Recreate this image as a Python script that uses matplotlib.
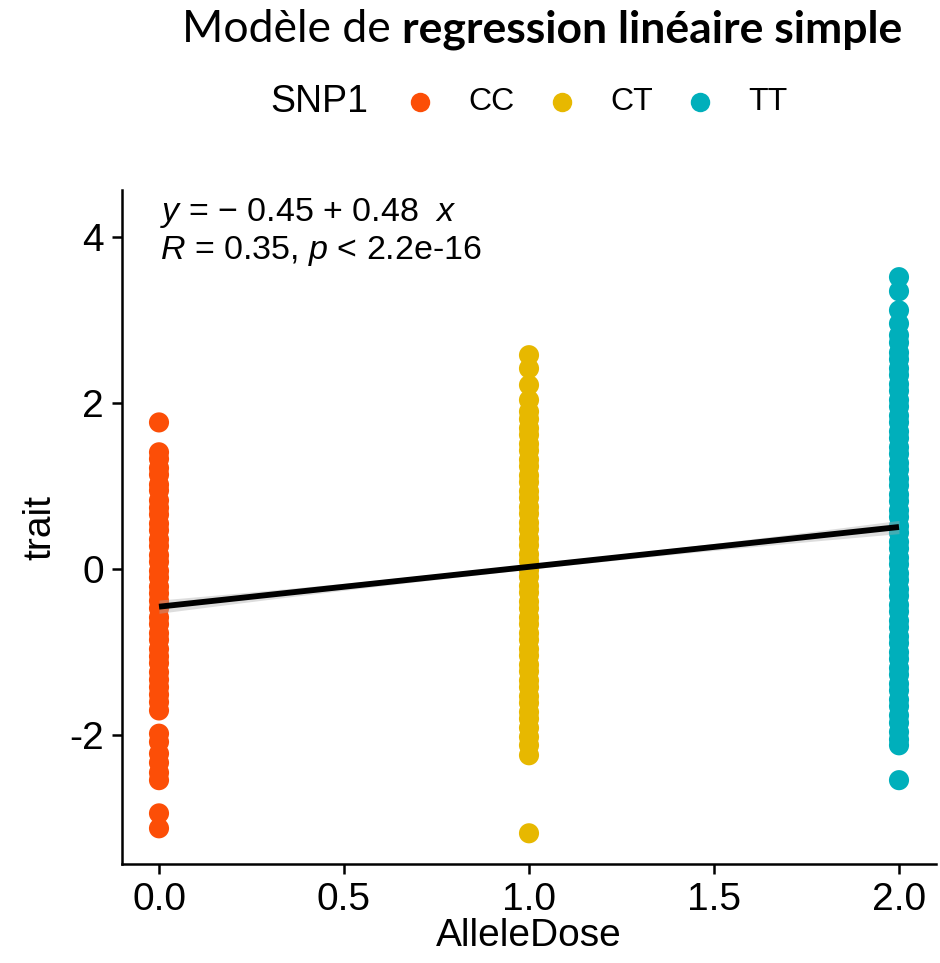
import matplotlib
matplotlib.use("Agg")
import matplotlib.pyplot as plt
import numpy as np
from matplotlib.lines import Line2D

plt.rcParams['font.family'] = ['Liberation Sans', 'DejaVu Sans']
plt.rcParams['mathtext.fontset'] = 'custom'
plt.rcParams['mathtext.rm'] = 'Liberation Sans'
plt.rcParams['mathtext.it'] = 'Liberation Sans:italic'

# ---------------- data ----------------
genotypes = ["CC", "CT", "TT"]
allele_dose = [0.0, 1.0, 2.0]
colors = ["#FC4E07", "#E7B800", "#00AFBB"]

trait_CC = [1.77, 1.41, 1.33, 1.22, 1.14, 1.02, 0.95, 0.83, 0.74, 0.66, 0.55, 0.47,
            0.36, 0.28, 0.17, 0.09, -0.02, -0.10, -0.21, -0.29, -0.38, -0.47, -0.58,
            -0.66, -0.77, -0.85, -0.96, -1.05, -1.13, -1.24, -1.33, -1.42, -1.51,
            -1.60, -1.70, -1.98, -2.08, -2.22, -2.33, -2.45, -2.54, -2.94, -3.12]
trait_CT = [2.58, 2.42, 2.22, 2.04, 1.90, 1.81, 1.70, 1.62, 1.51, 1.43, 1.32, 1.24,
            1.13, 1.05, 0.94, 0.86, 0.75, 0.67, 0.56, 0.48, 0.37, 0.29, 0.18, 0.10,
            -0.01, -0.09, -0.20, -0.28, -0.39, -0.47, -0.58, -0.66, -0.77, -0.85,
            -0.96, -1.04, -1.15, -1.23, -1.34, -1.42, -1.53, -1.61, -1.72, -1.80,
            -1.91, -2.02, -2.12, -2.24, -3.18]
trait_TT = [3.52, 3.35, 3.12, 2.96, 2.82, 2.73, 2.61, 2.53, 2.42, 2.34, 2.23, 2.15,
            2.04, 1.96, 1.85, 1.77, 1.66, 1.58, 1.47, 1.39, 1.28, 1.20, 1.09, 1.01,
            0.90, 0.82, 0.71, 0.63, 0.52, 0.44, 0.33, 0.25, 0.14, 0.06, -0.05, -0.13,
            -0.24, -0.32, -0.43, -0.51, -0.62, -0.70, -0.81, -0.89, -1.00, -1.08,
            -1.19, -1.27, -1.38, -1.46, -1.57, -1.65, -1.76, -1.85, -1.96, -2.05,
            -2.12, -2.54]
traits = [trait_CC, trait_CT, trait_TT]

intercept = -0.45
slope = 0.48
ci_halfwidth_end = 0.08
ci_halfwidth_mid = 0.03

xticks = [0.0, 0.5, 1.0, 1.5, 2.0]
xticklabels = ["0.0", "0.5", "1.0", "1.5", "2.0"]
yticks = [-2, 0, 2, 4]
yticklabels = ["-2", "0", "2", "4"]

# ---------------- figure ----------------
W, H = 940, 963
fig = plt.figure(figsize=(W / 100, H / 100), dpi=100)

def fx(px):
    return px / W

def fy(py):
    return 1 - py / H

ax = fig.add_axes([fx(122), fy(864), fx(936) - fx(122), fy(190) - fy(864)])
ax.set_xlim(-0.1, 2.1)
ax.set_ylim(-3.55, 4.57)

for xd, ys, c in zip(allele_dose, traits, colors):
    ax.scatter([xd] * len(ys), ys, s=210, color=c, edgecolors='none', zorder=2)

xl = np.linspace(0, 2, 100)
yl = intercept + slope * xl
hw = ci_halfwidth_mid + (ci_halfwidth_end - ci_halfwidth_mid) * ((xl - 1.0) ** 2)
ax.fill_between(xl, yl - hw, yl + hw, color='#aaaaaa', alpha=0.4, lw=0, zorder=3)
ax.plot(xl, yl, color='black', lw=4.2, solid_capstyle='butt', zorder=4)

for s in ['top', 'right']:
    ax.spines[s].set_visible(False)
for s in ['left', 'bottom']:
    ax.spines[s].set_linewidth(1.8)
ax.set_xticks(xticks)
ax.set_xticklabels(xticklabels)
ax.set_yticks(yticks)
ax.set_yticklabels(yticklabels)
ax.tick_params(axis='both', length=7, width=1.8, labelsize=28, pad=6)
ax.set_xlabel("AlleleDose", fontsize=28, labelpad=0)
ax.set_ylabel("trait", fontsize=28, labelpad=8)

# regression annotation
fig.text(fx(160), fy(213), r"$y$ = − 0.45 + 0.48  $x$", fontsize=24.5, va='center', ha='left')
fig.text(fx(160), fy(251), r"$R$ = 0.35, $p$ < 2.2e-16", fontsize=24.5, va='center', ha='left')

# title (regular + bold)
t1 = fig.text(fx(182), fy(42), "Modèle de ", fontsize=32, family='Lato', va='baseline', ha='left')
fig.canvas.draw()
bb = t1.get_window_extent(renderer=fig.canvas.get_renderer())
fig.text(bb.x1 / W, fy(42), "regression linéaire simple", fontsize=32, family='Lato',
         fontweight='bold', va='baseline', ha='left')

# legend
fig.text(fx(270), fy(102), "SNP1", fontsize=27, va='center', ha='left')
dot_px = [420, 562, 700]
lab_px = [468, 610, 748]
for g, c, dp, lp in zip(genotypes, colors, dot_px, lab_px):
    fig.add_artist(Line2D([fx(dp)], [fy(102)], transform=fig.transFigure, marker='o',
                          markersize=14, color=c, markeredgewidth=0, linestyle='none'))
    fig.text(fx(lp), fy(102), g, fontsize=23, va='center', ha='left')

fig.savefig("out.png", dpi=100)
